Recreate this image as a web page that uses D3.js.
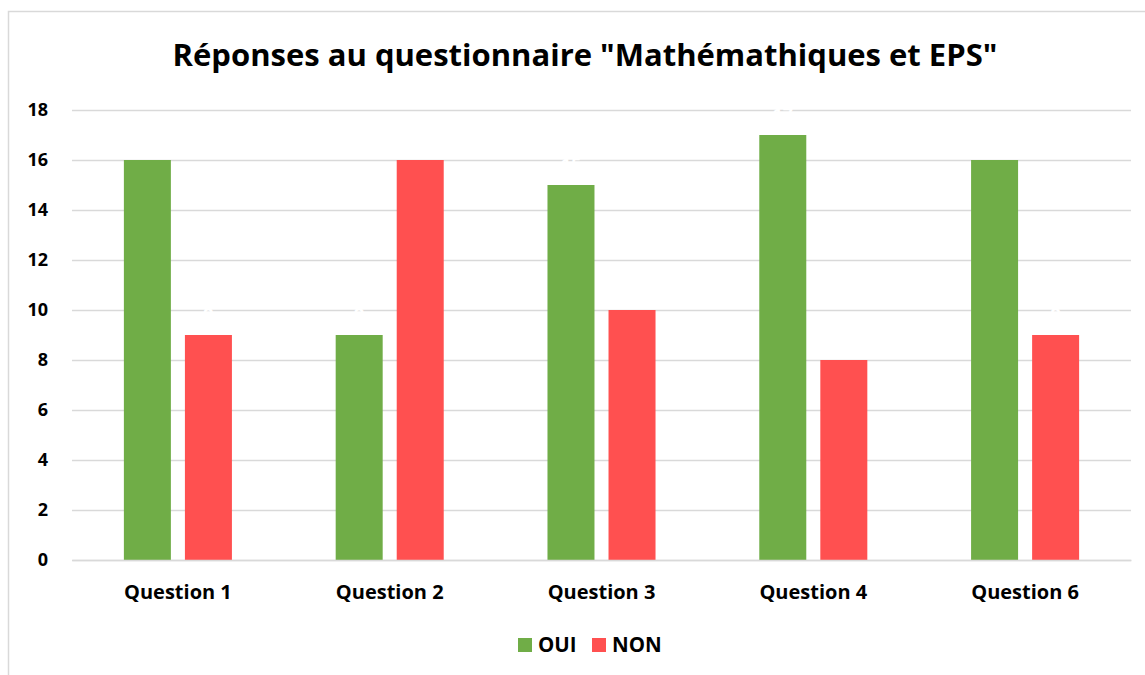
<!DOCTYPE html>
<html>
<head>
<meta charset="utf-8">
<script src="https://cdn.jsdelivr.net/npm/d3@7"></script>
<style>
  body { margin: 0; background: #fff; }
  text { font-family: "Open Sans", Lato, sans-serif; font-weight: bold; }
</style>
</head>
<body>
<div class="chart"></div>
<script>
// Réponses OUI / NON par question
var categories = ["Question 1", "Question 2", "Question 3", "Question 4", "Question 6"];
var series = ["OUI", "NON"];
var ouiValues = [16, 9, 15, 17, 16];
var nonValues = [9, 16, 10, 8, 9];
var yTicks = [0, 2, 4, 6, 8, 10, 12, 14, 16, 18];
var colors = { OUI: "#70AD47", NON: "#FF5050" };

var svgWidth = 1145;
var svgHeight = 675;
var margin = { top: 110, right: 14, bottom: 115, left: 72 };
var width = svgWidth - margin.left - margin.right;
var height = svgHeight - margin.top - margin.bottom;

var svg = d3.select(".chart")
  .append("svg")
  .attr("width", svgWidth)
  .attr("height", svgHeight);

// chart frame
svg.append("rect")
  .attr("x", 8.5).attr("y", 11.5)
  .attr("width", svgWidth + 10).attr("height", svgHeight + 10)
  .attr("fill", "none")
  .attr("stroke", "#D9D9D9")
  .attr("stroke-width", 1.5);

// title
svg.append("text")
  .attr("x", 585)
  .attr("y", 66)
  .attr("text-anchor", "middle")
  .attr("font-size", "31px")
  .attr("fill", "#000")
  .text("Réponses au questionnaire \"Mathémathiques et EPS\"");

var chart = svg.append("g")
  .attr("transform", "translate(" + margin.left + "," + margin.top + ")");

var data = categories.map(function(c, i) {
  return { cat: c, values: [{ key: "OUI", value: ouiValues[i] }, { key: "NON", value: nonValues[i] }] };
});

var x0 = d3.scaleBand().domain(categories).range([0, width]).padding(0);
var x1 = d3.scaleBand().domain(series).range([0, x0.bandwidth()])
  .paddingInner(0.23).paddingOuter(0.85);
var y = d3.scaleLinear().domain([0, 18]).range([height, 0]);

// gridlines
chart.append("g")
  .call(d3.axisLeft(y).tickValues(yTicks).tickSize(-width).tickFormat(""))
  .call(function(g) {
    g.select(".domain").remove();
    g.selectAll("line").attr("stroke", "#D9D9D9").attr("stroke-width", 1.5);
  });

// y tick labels
chart.append("g")
  .call(d3.axisLeft(y).tickValues(yTicks).tickSize(0).tickPadding(24))
  .call(function(g) {
    g.select(".domain").remove();
    g.selectAll("text")
      .attr("font-size", "18px")
      .attr("fill", "#000")
      .style("font-family", "'Open Sans', Lato, sans-serif")
      .style("font-weight", "bold");
  });

var groups = chart.selectAll(".group")
  .data(data)
  .enter().append("g")
  .attr("transform", function(d) { return "translate(" + x0(d.cat) + ",0)"; });

groups.selectAll("rect")
  .data(function(d) { return d.values; })
  .enter().append("rect")
  .attr("x", function(d) { return x1(d.key); })
  .attr("y", function(d) { return y(d.value); })
  .attr("width", x1.bandwidth())
  .attr("height", function(d) { return height - y(d.value); })
  .attr("fill", function(d) { return colors[d.key]; });

// data labels (white, as in the original)
groups.selectAll(".lbl")
  .data(function(d) { return d.values; })
  .enter().append("text")
  .attr("class", "lbl")
  .attr("x", function(d) { return x1(d.key) + x1.bandwidth() / 2; })
  .attr("y", function(d) { return y(d.value) - 14; })
  .attr("text-anchor", "middle")
  .attr("font-size", "18px")
  .attr("fill", "#fff")
  .text(function(d) { return d.value; });

// x axis labels
chart.append("g")
  .attr("transform", "translate(0," + height + ")")
  .call(d3.axisBottom(x0).tickSize(0).tickPadding(25))
  .call(function(g) {
    g.select(".domain").attr("stroke", "#D9D9D9").attr("stroke-width", 1.5);
    g.selectAll("text")
      .attr("font-size", "20px")
      .attr("fill", "#000")
      .style("font-family", "'Open Sans', Lato, sans-serif")
      .style("font-weight", "bold");
  });

// legend
var legendItems = [{ key: "OUI", x: 518 }, { key: "NON", x: 592 }];
var legend = svg.append("g");
legendItems.forEach(function(item) {
  legend.append("rect")
    .attr("x", item.x).attr("y", 638)
    .attr("width", 14).attr("height", 14)
    .attr("fill", colors[item.key]);
  legend.append("text")
    .attr("x", item.x + 20).attr("y", 652)
    .attr("font-size", "20.5px")
    .attr("fill", "#000")
    .text(item.key);
});
</script>
</body>
</html>
